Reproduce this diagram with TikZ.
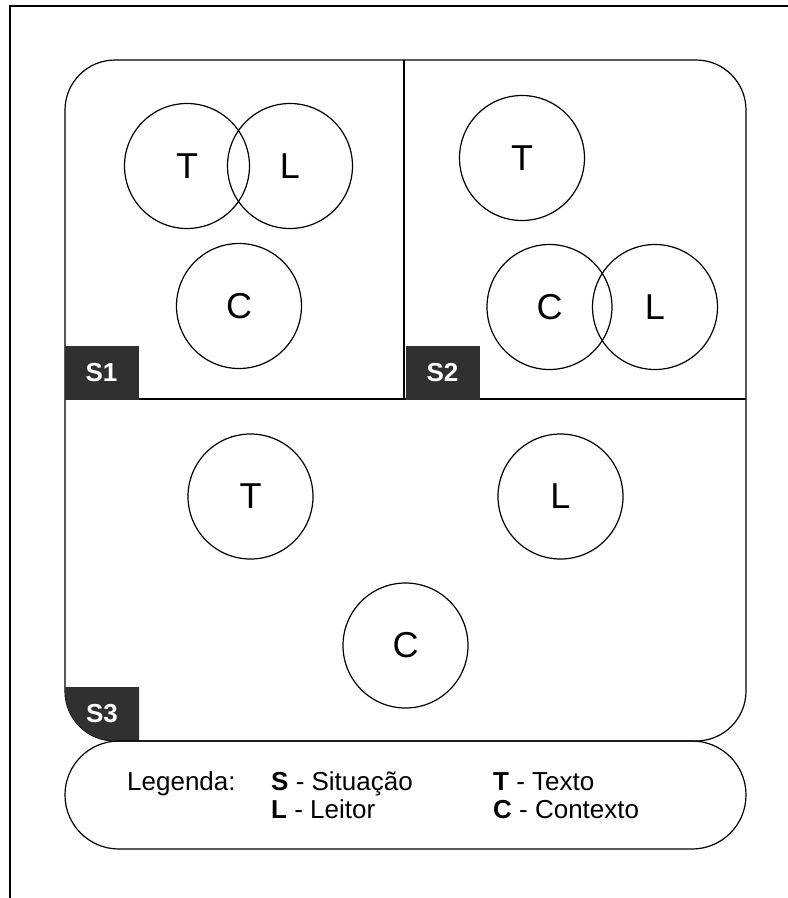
\documentclass[tikz,border=0pt]{standalone}
\usepackage{fontspec}
\setmainfont{Liberation Sans}
\definecolor{labelgray}{HTML}{303030}
\tikzset{
  circ/.style={draw, circle, minimum size=125pt, inner sep=0pt, line width=1.2pt, font=\fontsize{36}{36}\selectfont},
  sitlabel/.style={minimum width=74pt, minimum height=54pt, inner sep=0pt, text=white, font=\fontsize{26}{26}\selectfont\bfseries},
  legtext/.style={anchor=base west, inner sep=0pt, font=\fontsize{26}{26}\selectfont}
}
\begin{document}
\begin{tikzpicture}[x=1pt,y=1pt,yscale=-1,xscale=1]
\useasboundingbox (0,0) rectangle (788,898);
\clip (0,0) rectangle (788,898);

% Outer frame
\draw [line width=2.5pt] (10,6) rectangle (800,910);

% Main box and dividers
\draw [line width=1.2pt, rounded corners=50pt] (65,60) rectangle (746,741);
\draw [line width=1.2pt] (404,60) -- (404,399);
\draw [line width=1.2pt] (65,399) -- (746,399);

% Situation labels
\node [sitlabel, fill=labelgray] (s1) at (101.5,372.5) {S1};
\node [sitlabel, fill=labelgray] (s2) at (442.5,372.5) {S2};
\fill [labelgray] (65,687) -- (139,687) -- (139,741) [rounded corners=50pt] -- (65,741) [sharp corners] -- cycle;
\node [sitlabel] (s3) at (102,714) {S3};

% S1
\node [circ] (t1) at (187,166) {T};
\node [circ] (l1) at (290,166) {L};
\node [circ] (c1) at (239,306) {C};

% S2
\node [circ] (t2) at (522,158) {T};
\node [circ] (c2) at (549.5,307) {C};
\node [circ] (l2) at (655,307) {L};

% S3
\node [circ] (t3) at (250.5,496.5) {T};
\node [circ] (l3) at (560.5,496.5) {L};
\node [circ] (c3) at (405.5,645.5) {C};

% Legend
\draw [line width=1.2pt, rounded corners=53.9pt] (65,741) rectangle (746,849);
\node [legtext] (leg) at (127,790) {Legenda:};
\node [legtext] (legs) at (271,790) {\textbf{S} - Situação};
\node [legtext] (legl) at (271,818) {\textbf{L} - Leitor};
\node [legtext] (legt) at (493,790) {\textbf{T} - Texto};
\node [legtext] (legc) at (493,818) {\textbf{C} - Contexto};

\end{tikzpicture}
\end{document}
